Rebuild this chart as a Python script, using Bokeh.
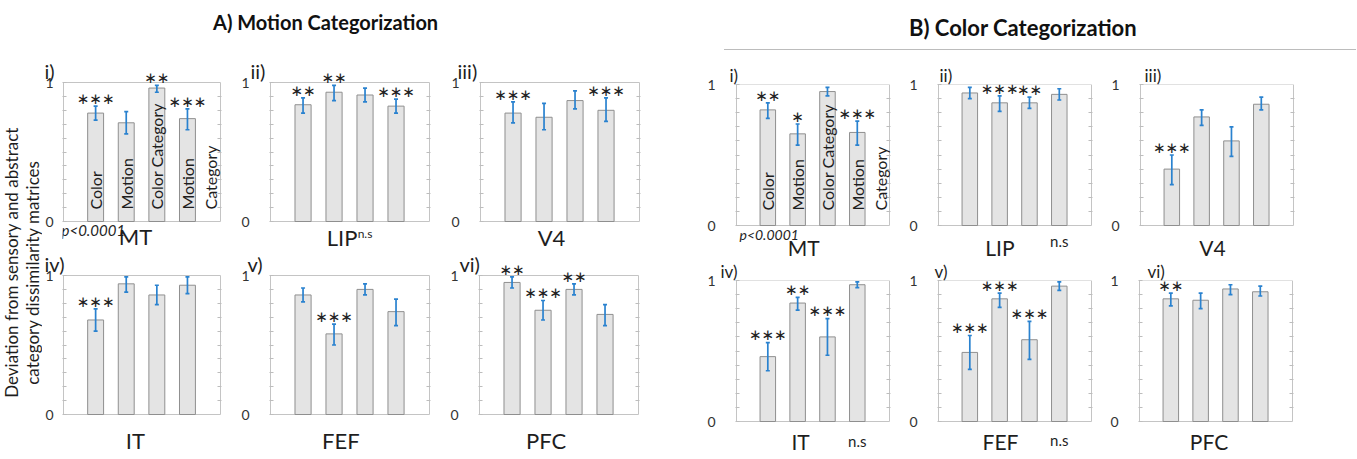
import math
from bokeh.plotting import figure
from bokeh.models import (ColumnDataSource, Range1d, FixedTicker, LinearAxis, Whisker,
                          TeeHead, LabelSet, Label, Div)
from bokeh.layouts import row, column
from bokeh.embed import file_html
from bokeh.resources import INLINE
from bokeh.core.properties import value

# ---------------- data ----------------
areas = ["MT", "LIP", "V4", "IT", "FEF", "PFC"]
panel_tags = ["i)", "ii)", "iii)", "iv)", "v)", "vi)"]
conditions = ["Color", "Motion", "Color Category", "Motion Category"]
bar_x = [1, 2, 3, 4]
mt_bar_text = ["Color", "Motion", "Color Category", "Motion"]
mt_extra_text = "Category"
y_major_ticks = [0, 1]
y_minor_ticks = [0.1, 0.2, 0.3, 0.4, 0.5, 0.6, 0.7, 0.8, 0.9]

# A) Motion categorization
motion_mean = [
    [0.78, 0.71, 0.96, 0.74],  # MT
    [0.84, 0.93, 0.91, 0.83],  # LIP
    [0.78, 0.75, 0.87, 0.80],  # V4
    [0.68, 0.94, 0.86, 0.93],  # IT
    [0.86, 0.58, 0.90, 0.74],  # FEF
    [0.95, 0.75, 0.90, 0.72],  # PFC
]
motion_lo = [
    [0.73, 0.63, 0.93, 0.66],
    [0.78, 0.87, 0.86, 0.78],
    [0.71, 0.66, 0.81, 0.72],
    [0.60, 0.88, 0.79, 0.87],
    [0.81, 0.50, 0.86, 0.64],
    [0.91, 0.68, 0.86, 0.64],
]
motion_hi = [
    [0.83, 0.79, 0.98, 0.81],
    [0.89, 0.98, 0.96, 0.88],
    [0.86, 0.85, 0.94, 0.89],
    [0.76, 0.99, 0.93, 0.99],
    [0.91, 0.65, 0.94, 0.83],
    [0.99, 0.82, 0.94, 0.79],
]
motion_stars = [
    ["***", "", "**", "***"],
    ["**", "**", "", "***"],
    ["***", "", "", "***"],
    ["***", "", "", ""],
    ["", "***", "", ""],
    ["**", "***", "**", ""],
]
motion_ns_area = ["LIP"]
motion_ns_bar = [3]

# B) Color categorization
color_mean = [
    [0.82, 0.65, 0.95, 0.66],
    [0.94, 0.87, 0.87, 0.93],
    [0.40, 0.77, 0.60, 0.86],
    [0.46, 0.84, 0.60, 0.97],
    [0.49, 0.87, 0.58, 0.96],
    [0.87, 0.86, 0.94, 0.92],
]
color_lo = [
    [0.76, 0.57, 0.92, 0.57],
    [0.90, 0.81, 0.83, 0.89],
    [0.29, 0.71, 0.49, 0.82],
    [0.36, 0.79, 0.47, 0.95],
    [0.37, 0.81, 0.44, 0.93],
    [0.82, 0.80, 0.90, 0.89],
]
color_hi = [
    [0.87, 0.72, 0.98, 0.74],
    [0.98, 0.92, 0.91, 0.97],
    [0.50, 0.82, 0.70, 0.91],
    [0.56, 0.88, 0.73, 0.99],
    [0.61, 0.91, 0.71, 0.99],
    [0.91, 0.91, 0.97, 0.96],
]
color_stars = [
    ["**", "*", "", "***"],
    ["", "***", "**", ""],
    ["***", "", "", ""],
    ["***", "**", "***", ""],
    ["***", "***", "***", ""],
    ["**", "", "", ""],
]
color_ns_area = ["LIP", "IT", "FEF"]
color_ns_bar = [4, 4, 4]

# ---------------- styling / geometry ----------------
FONT = "Lato"
BAR_FILL = "#e4e4e4"
BAR_LINE = "#8f8f8f"
ERR = "#2a82cf"
FRAME = "#c4c4c4"
TXT = "#1e1e1e"
BOX_X = (-0.05, 5.08)

GEOM = {
    "A": dict(widths=[190, 210, 240], heights=[199, 204], top=[32, 26], bottom=[28, 39],
              box_h=139, unit=159 / 5.13, ext_top=13, title_extra=0,
              left=[[18, 37, 37], [18, 37, 36]], right=[[11, 12, 42], [11, 12, 43]],
              title_off=[[-18, -19, -22], [-18, -22, -19]], title_size="20px",
              ytick_standoff=[9, 20, 20],
              lab_size="22px", lab_x=[2.30, 2.26, 2.24, 2.30, 2.22, 2.10],
              lab_dy=[15, 15.5, 15.5, 26, 26, 26],
              mt_text_y=0.086, category_x=4.74, p_x=-0.115, p_dy=8, p_size="15px",
              ns_dy={"LIP": 11.5}, ns_size="12px"),
    "B": dict(widths=[210, 200, 249], heights=[204, 194], top=[29, 21], bottom=[34, 32],
              box_h=141, unit=153 / 5.13, ext_top=0, title_extra=-2,
              left=[[43, 35, 37], [43, 35, 36]], right=[[12, 10, 57], [12, 10, 58]],
              title_off=[[-6, 2, 5], [-15, -3, 9]], title_size="17px",
              ytick_standoff=[20, 20, 20],
              lab_size="21px", lab_x=[2.20, 2.01, 2.36, 2.10, 2.03, 2.28],
              lab_dy=[22, 22, 22, 20, 20, 20],
              mt_text_y=0.106, category_x=4.78, p_x=0.05, p_dy=9, p_size="14px",
              ns_dy={"LIP": 15, "IT": 19, "FEF": 18}, ns_size="15px"),
}


def make_panel(group, k, mean, lo, hi, stars, ns_area, ns_bar):
    g = GEOM[group]
    r, c = divmod(k, 3)
    H = g["box_h"]
    u = 1.0 / g["unit"]          # one pixel in x data units
    T = g["ext_top"]
    Bt = g["bottom"][r]
    p = figure(width=g["widths"][c], height=g["heights"][r],
               x_range=Range1d(BOX_X[0] - u, BOX_X[1] + u),
               y_range=Range1d(-Bt / H, 1 + T / H),
               x_axis_type=None,
               toolbar_location=None, output_backend="svg",
               min_border_left=g["left"][r][c], min_border_right=g["right"][r][c],
               min_border_top=g["top"][r] - T, min_border_bottom=0)
    p.grid.visible = False
    p.outline_line_color = None

    # panel tag as title
    p.title.text = panel_tags[k]
    p.title.align = "left"
    p.title.offset = g["title_off"][r][c]
    p.title.standoff = -2 * T + g["title_extra"]
    p.title.text_font = FONT
    p.title.text_font_size = g["title_size"]
    p.title.text_font_style = "normal"
    p.title.text_color = TXT

    # y axis (0 and 1 labelled, inner ticks)
    ya = p.yaxis[0]
    ya.ticker = FixedTicker(ticks=y_major_ticks, minor_ticks=y_minor_ticks)
    ya.axis_line_color = None
    ya.major_tick_in = 4
    ya.major_tick_out = 0
    ya.minor_tick_in = 4
    ya.minor_tick_out = 0
    ya.major_tick_line_color = "#bdbdbd"
    ya.minor_tick_line_color = "#bdbdbd"
    ya.major_label_standoff = g["ytick_standoff"][c]
    ya.major_label_text_font = FONT
    ya.major_label_text_font_size = "14px"
    ya.major_label_text_color = "#333333"

    ra = LinearAxis(ticker=FixedTicker(ticks=[], minor_ticks=y_minor_ticks),
                    axis_line_color=None, major_tick_in=0, major_tick_out=0,
                    minor_tick_in=4, minor_tick_out=0, minor_tick_line_color="#bdbdbd",
                    major_label_standoff=0)
    p.add_layout(ra, "right")

    # plot box
    p.quad(left=[BOX_X[0]], right=[BOX_X[1]], bottom=[0], top=[1],
           fill_color=None, line_color=FRAME, line_width=1)

    src = ColumnDataSource(dict(
        x=bar_x, mean=mean, lo=lo, hi=hi,
        star_y=[h + 0.015 for h in hi],
        stars=[s.replace("*", "\u2217") for s in stars],
    ))
    p.vbar(x="x", top="mean", bottom=0, width=0.52, source=src,
           fill_color=BAR_FILL, line_color=BAR_LINE, line_width=1)
    p.add_layout(Whisker(base="x", upper="hi", lower="lo", source=src, level="overlay",
                         line_color=ERR, line_width=1.7,
                         upper_head=TeeHead(size=4, line_color=ERR, line_width=1.7),
                         lower_head=TeeHead(size=4, line_color=ERR, line_width=1.7)))
    p.add_layout(LabelSet(x="x", y="star_y", text="stars", source=src,
                          text_align="center", text_baseline="alphabetic",
                          text_font=value("DejaVu Sans"), text_font_size=value("15px"),
                          text_color="#222222"))

    # area name under the box
    p.add_layout(Label(x=g["lab_x"][k], y=-g["lab_dy"][k] / H, text=areas[k],
                       text_align="center", text_baseline="middle",
                       text_font=FONT, text_font_size=g["lab_size"], text_color=TXT))

    if areas[k] == "MT":
        tsrc = ColumnDataSource(dict(x=bar_x, y=[g["mt_text_y"]] * 4, t=mt_bar_text))
        p.add_layout(LabelSet(x="x", y="y", text="t", source=tsrc, angle=math.pi / 2,
                              text_align="left", text_baseline="middle",
                              text_font=value(FONT), text_font_size=value("16px"),
                              text_color=TXT))
        p.add_layout(Label(x=g["category_x"], y=g["mt_text_y"], text=mt_extra_text,
                           angle=math.pi / 2, text_align="left", text_baseline="middle",
                           text_font=FONT, text_font_size="16px", text_color=TXT))
        p.add_layout(Label(x=g["p_x"], y=-g["p_dy"] / H, text="p<0.0001",
                           text_align="left", text_baseline="middle",
                           text_font=FONT, text_font_size=g["p_size"],
                           text_font_style="italic", text_color=TXT))
    if areas[k] in ns_area:
        b = ns_bar[ns_area.index(areas[k])]
        p.add_layout(Label(x=bar_x[b - 1], y=-g["ns_dy"][areas[k]] / H, text="n.s",
                           text_align="center", text_baseline="middle",
                           text_font=FONT, text_font_size=g["ns_size"], text_color=TXT))
    return p


A_panels = [make_panel("A", k, motion_mean[k], motion_lo[k], motion_hi[k],
                       motion_stars[k], motion_ns_area, motion_ns_bar) for k in range(6)]
B_panels = [make_panel("B", k, color_mean[k], color_lo[k], color_hi[k],
                       color_stars[k], color_ns_area, color_ns_bar) for k in range(6)]

# vertical shared label strip
strip = figure(width=42, height=403, x_range=Range1d(0, 42), y_range=Range1d(0, 403),
               toolbar_location=None, output_backend="svg", min_border=0,
               x_axis_type=None, y_axis_type=None, outline_line_color=None)
strip.grid.visible = False
strip.add_layout(Label(x=11, y=191, text="Deviation from sensory and abstract",
                       angle=math.pi / 2, text_align="center", text_baseline="middle",
                       text_font=FONT, text_font_size="17px", text_color=TXT))
strip.add_layout(Label(x=32, y=181, text="category dissimilarity matrices",
                       angle=math.pi / 2, text_align="center", text_baseline="middle",
                       text_font=FONT, text_font_size="17px", text_color=TXT))

titleA = Div(width=682, height=40, text=(
    '<div style="position:relative;width:682px;height:40px;">'
    '<div style="position:absolute;left:208px;top:3px;font-family:Lato;font-weight:bold;'
    'font-size:20px;white-space:nowrap;color:#111;">A) Motion Categorization</div></div>'))
titleB = Div(width=659, height=45, text=(
    '<div style="position:relative;width:659px;height:45px;">'
    '<div style="position:absolute;left:212px;top:7px;font-family:Lato;font-weight:bold;'
    'font-size:22px;white-space:nowrap;color:#111;">B) Color Categorization</div>'
    '<div style="position:absolute;left:27px;top:44px;width:632px;height:0;'
    'border-top:1px solid #bcbcbc;"></div></div>'))

groupA = column(titleA,
                row(strip, column(row(*A_panels[:3], spacing=0), row(*A_panels[3:], spacing=0),
                                  spacing=0), spacing=0),
                spacing=0)
groupB = column(titleB, row(*B_panels[:3], spacing=0), row(*B_panels[3:], spacing=0), spacing=0)
layout = row(groupA, groupB, spacing=0)

open("out.html", "w").write(file_html(layout, INLINE))
